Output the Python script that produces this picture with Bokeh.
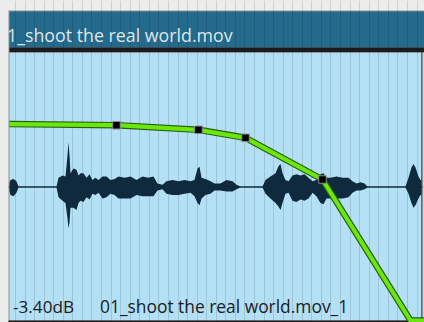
from bokeh.plotting import figure
from bokeh.models import Range1d, Grid, SingleIntervalTicker, GlobalInlineStyleSheet
from bokeh.core.properties import value
from bokeh.embed import file_html
from bokeh.resources import INLINE

# ---- data -------------------------------------------------------------
clip_title = "1_shoot the real world.mov"
clip_name = "01_shoot the real world.mov_1"
gain_label = "-3.40dB"

# volume envelope keyframes (time in s, gain in dB)
env_t = [-0.063, 1.056, 1.914, 2.406, 3.211, 4.132, 4.290]
env_db = [-3.40, -3.68, -4.83, -6.83, -17.25, -52.5, -52.5]

# audio waveform (time in s, upper / lower peak, normalised)
wave_t = [-0.063, -0.052, -0.021, 0.010, 0.031, 0.429, 0.450, 0.492, 0.523, 0.544,
          0.554, 0.565, 0.575, 0.607, 0.638, 0.659, 0.680, 0.711, 0.743, 0.774,
          0.805, 0.837, 0.868, 0.910, 0.952, 0.994, 1.036, 1.077, 1.140, 1.203,
          1.266, 1.328, 1.391, 1.443, 1.485, 1.538, 1.579, 1.642, 1.705, 1.768,
          1.831, 1.872, 1.904, 1.925, 1.946, 1.987, 2.040, 2.082, 2.144, 2.207,
          2.270, 2.312, 2.354, 2.584, 2.615, 2.667, 2.720, 2.751, 2.772, 2.793,
          2.824, 2.856, 2.897, 2.939, 2.981, 3.023, 3.065, 3.107, 3.148, 3.190,
          3.222, 3.253, 3.295, 3.358, 3.420, 3.483, 3.525, 3.567, 3.609, 3.651,
          3.682, 4.079, 4.111, 4.142, 4.163, 4.184, 4.215, 4.236, 4.247]
wave_hi = [0.08, 0.12, 0.14, 0.10, 0.01, 0.01, 0.16, 0.20, 0.18, 0.55,
           0.78, 0.55, 0.24, 0.32, 0.30, 0.20, 0.24, 0.24, 0.16, 0.22,
           0.12, 0.16, 0.12, 0.18, 0.18, 0.12, 0.14, 0.18, 0.16, 0.18,
           0.12, 0.18, 0.16, 0.18, 0.06, 0.04, 0.10, 0.12, 0.10, 0.12,
           0.10, 0.12, 0.32, 0.35, 0.16, 0.14, 0.10, 0.06, 0.06, 0.12,
           0.10, 0.04, 0.01, 0.01, 0.12, 0.18, 0.24, 0.36, 0.40, 0.24,
           0.12, 0.10, 0.20, 0.22, 0.20, 0.22, 0.16, 0.10, 0.12, 0.22,
           0.24, 0.16, 0.16, 0.18, 0.16, 0.16, 0.10, 0.06, 0.08, 0.06,
           0.01, 0.01, 0.16, 0.34, 0.40, 0.34, 0.18, 0.12, 0.12]
wave_lo = [-0.08, -0.14, -0.16, -0.10, -0.01, -0.01, -0.18, -0.24, -0.28, -0.55,
           -0.72, -0.62, -0.36, -0.36, -0.40, -0.28, -0.24, -0.26, -0.18, -0.22,
           -0.12, -0.14, -0.10, -0.20, -0.18, -0.12, -0.14, -0.20, -0.20, -0.20,
           -0.14, -0.16, -0.16, -0.16, -0.06, -0.04, -0.12, -0.14, -0.14, -0.12,
           -0.10, -0.16, -0.28, -0.32, -0.20, -0.14, -0.12, -0.06, -0.06, -0.08,
           -0.08, -0.04, -0.01, -0.01, -0.12, -0.20, -0.28, -0.34, -0.40, -0.28,
           -0.12, -0.10, -0.24, -0.26, -0.22, -0.24, -0.20, -0.10, -0.16, -0.28,
           -0.30, -0.20, -0.20, -0.20, -0.20, -0.18, -0.10, -0.06, -0.06, -0.04,
           -0.01, -0.01, -0.12, -0.28, -0.36, -0.32, -0.20, -0.14, -0.14]

# ---- figure -----------------------------------------------------------
W, H = 424, 322
p = figure(width=W, height=H, output_backend="svg", toolbar_location=None,
           x_range=Range1d(0, W), y_range=Range1d(H, 0),
           min_border=0, x_axis_type=None, y_axis_type=None)
p.outline_line_color = None
p.background_fill_color = "#ececec"
p.border_fill_color = "#ececec"
p.xgrid.visible = False
p.ygrid.visible = False
p.stylesheets = [GlobalInlineStyleSheet(css="html,body{background:#ececec;margin:0;padding:0;}")]

p.extra_x_ranges = {"time": Range1d(-0.1569, 4.2782)}
p.extra_y_ranges = {"gain": Range1d(-53, 27.5), "amp": Range1d(-2.357, 3.243)}

# clip frame (layout, in pixels)
p.quad(left=8, right=W, top=10, bottom=H, fill_color="#8e8e8e", line_color=None, level="image")
p.quad(left=9, right=W, top=11, bottom=47, fill_color="#246a8d", line_color=None, level="image")
p.quad(left=9, right=W, top=47, bottom=52, fill_color="#1c1c1c", line_color=None, level="image")
p.quad(left=9, right=421, top=52, bottom=320, fill_color="#b4e0f6", line_color=None, level="image")
p.quad(left=421, right=422, top=52, bottom=H, fill_color="#1e1e1e", line_color=None, level="image")
p.quad(left=422, right=W, top=52, bottom=H, fill_color="#cfd3d6", line_color=None, level="image")
p.quad(left=8, right=421, top=320, bottom=H, fill_color="#1e1e1e", line_color=None, level="image")

grid = Grid(dimension=0, ticker=SingleIntervalTicker(interval=0.1), x_range_name="time",
            grid_line_color="black", grid_line_alpha=0.12, grid_line_width=1,
            bounds=(-0.08, 4.3))
p.add_layout(grid, "center")

# waveform
p.line(x=[-0.07, 4.26], y=[0, 0], x_range_name="time", y_range_name="amp",
       line_color="#0e2a3c", line_width=1)
p.varea(x=wave_t, y1=wave_lo, y2=wave_hi, x_range_name="time", y_range_name="amp",
        fill_color="#0e2a3c")

# envelope
p.line(x=env_t, y=env_db, x_range_name="time", y_range_name="gain",
       line_color="#2c5e12", line_width=6.5)
p.line(x=env_t, y=env_db, x_range_name="time", y_range_name="gain",
       line_color="#6ae80e", line_width=4.2)
p.scatter(x=env_t[1:5], y=env_db[1:5], x_range_name="time", y_range_name="gain",
          marker="square", size=7.5, fill_color="black", line_color="#8a8a8a", line_width=1)

# texts
p.text(x=[6.5], y=[34.5], text=[clip_title], text_font=value("Open Sans"),
       text_font_size="17.8px", text_color="#dfe6ea", text_baseline="alphabetic")
p.text(x=[12.5], y=[305.5], text=[gain_label], text_font=value("Open Sans"),
       text_font_size="17.2px", text_color="#1b1b1b", text_baseline="alphabetic")
p.text(x=[99.5], y=[305.5], text=[clip_name], text_font=value("Open Sans"),
       text_font_size="17.4px", text_color="#1b1b1b", text_baseline="alphabetic")

open("out.html", "w").write(file_html(p, INLINE))
